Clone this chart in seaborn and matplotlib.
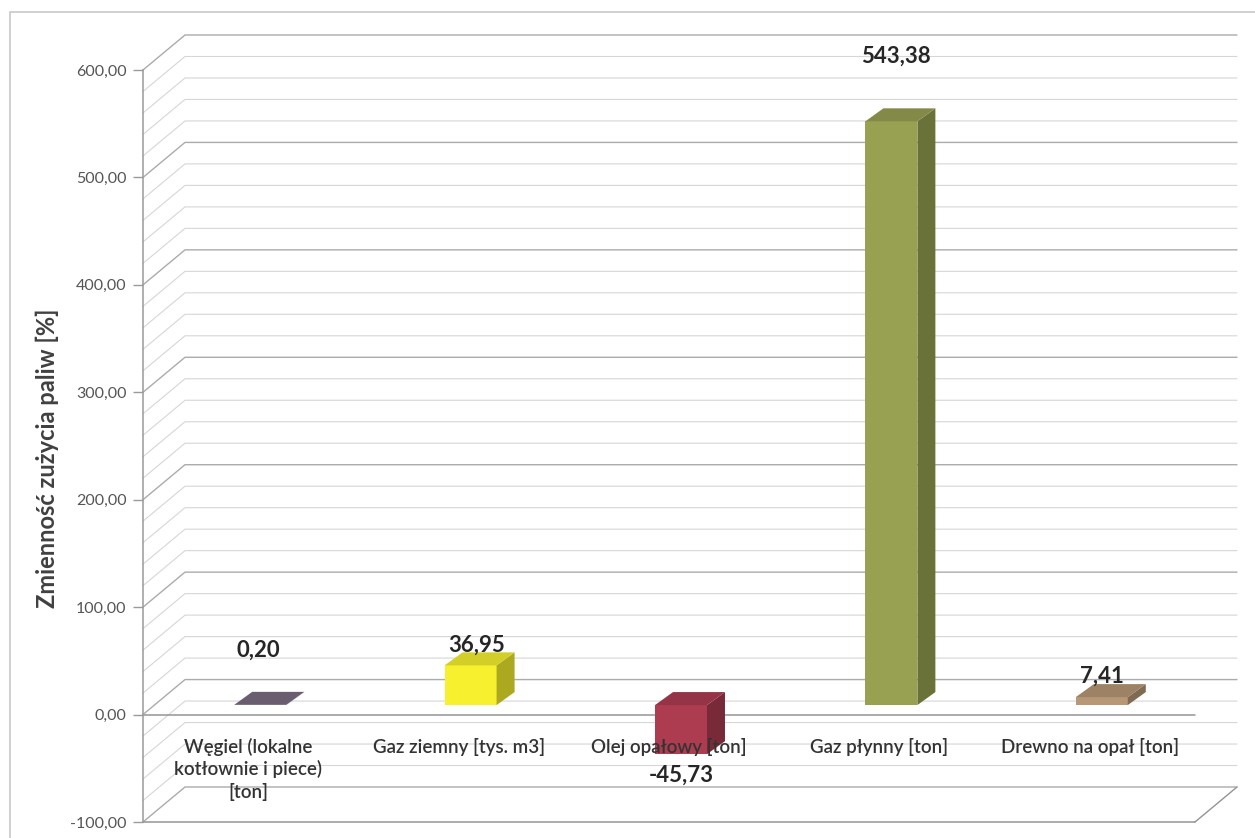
import matplotlib
matplotlib.use("Agg")
import matplotlib.pyplot as plt
from matplotlib.transforms import ScaledTranslation
from matplotlib.patches import Polygon, Rectangle
from matplotlib.lines import Line2D
from matplotlib.ticker import FuncFormatter, FixedLocator
import numpy as np
import pandas as pd
import seaborn as sns

# ---- data -------------------------------------------------------------
categories = [
    "Węgiel (lokalne\nkotłownie i piece)\n[ton]",
    "Gaz ziemny [tys. m3]",
    "Olej opałowy [ton]",
    "Gaz płynny [ton]",
    "Drewno na opał [ton]",
]
values = [0.20, 36.95, -45.73, 543.38, 7.41]
y_ticks = [-100, 0, 100, 200, 300, 400, 500, 600]
y_label = "Zmienność zużycia paliw [%]"

# ---- style ------------------------------------------------------------
front_colors = ["#7b6c82", "#f6f02e", "#ad3c51", "#98a152", "#b69776"]
top_shade, side_shade = 0.86, 0.70
label_offsets_px = [(-2, 55), (6, 20), (0, -21), (5, 65), (0, 21)]

W, H, DPI = 1255, 838, 100
WALL = (42, 35)        # depth of the chart box, px
BAR_POS = (12, 9.5)    # how far the bars sit behind the front plane, px
BAR_DEPTH = (18, 13)   # depth of each bar, px

sns.set_theme(style="white")
plt.rcParams["font.family"] = ["Lato", "DejaVu Sans"]

fig = plt.figure(figsize=(W / DPI, H / DPI), dpi=DPI)
ax = fig.add_axes([143 / W, 1 - 822 / H, (1195 - 143) / W, (822 - 70) / H])

df = pd.DataFrame({"kategoria": categories, "zmiana": values})
sns.barplot(data=df, x="kategoria", y="zmiana", hue="kategoria",
            palette=front_colors, width=0.247, saturation=1, legend=False,
            linewidth=0, ax=ax, zorder=5)
ax.set_xlim(-0.5, 4.5)
ax.set_ylim(-100, 600)
ax.set_xlabel("")
ax.set_ylabel("")


def shade(color, f):
    r, g, b = matplotlib.colors.to_rgb(color)
    return (r * f, g * f, b * f)


def px_line(pts, **kw):
    arr = np.asarray(pts, dtype=float) / DPI
    ax.add_line(Line2D(arr[:, 0], arr[:, 1], transform=fig.dpi_scale_trans,
                       clip_on=False, **kw))


def px_poly(pts, **kw):
    arr = np.asarray(pts, dtype=float) / DPI
    ax.add_patch(Polygon(arr, closed=True, transform=fig.dpi_scale_trans,
                         clip_on=False, **kw))


# ---- walls: left side wall diagonals and back wall grid -----------------
for v in range(-100, 601, 20):
    major = v % 100 == 0
    col = "#ababab" if major else "#d6d6d6"
    lw = 1.0 if major else 0.8
    fx, fy = ax.transData.transform((-0.5, v))
    rx, _ = ax.transData.transform((4.5, v))
    bx, by = fx + WALL[0], fy + WALL[1]
    px_line([(fx, fy), (bx, by), (rx + WALL[0], by)], color=col, lw=lw, zorder=1)

# floor front edges at 0 and at the bottom
for v in (0, -100):
    fx, fy = ax.transData.transform((-0.5, v))
    rx, _ = ax.transData.transform((4.5, v))
    px_line([(fx, fy), (rx, fy)], color="#949494", lw=1.1, zorder=2)
rx, ry = ax.transData.transform((4.5, -100))
px_line([(rx, ry), (rx + WALL[0], ry + WALL[1])], color="#949494", lw=1.0, zorder=2)

# ---- bars as boxes ----------------------------------------------------
bar_shift = ScaledTranslation(BAR_POS[0] / DPI, BAR_POS[1] / DPI, fig.dpi_scale_trans)
bar_trans = ax.transData + bar_shift
patches = sorted(ax.patches, key=lambda p: p.get_x())
for i, p in enumerate(patches):
    p.set_transform(bar_trans)
    p.set_zorder(6)
    x0, y0, w, h = p.get_x(), p.get_y(), p.get_width(), p.get_height()
    (xl, ya), (xr, yb) = bar_trans.transform([(x0, y0), (x0 + w, y0 + h)])
    lo, hi = min(ya, yb), max(ya, yb)
    dx, dy = BAR_DEPTH
    c = front_colors[i]
    px_poly([(xr, lo), (xr + dx, lo + dy), (xr + dx, hi + dy), (xr, hi)],
            facecolor=shade(c, side_shade), edgecolor="none", zorder=6)
    px_poly([(xl, hi), (xl + dx, hi + dy), (xr + dx, hi + dy), (xr, hi)],
            facecolor=shade(c, top_shade), edgecolor="none", zorder=6)

# ---- value labels -----------------------------------------------------
for i, v in enumerate(values):
    txt = f"{v:.2f}".replace(".", ",")
    ax.annotate(txt, xy=(i, v), xycoords=bar_trans,
                xytext=label_offsets_px[i], textcoords="offset pixels",
                ha="center", va="center", fontsize=16, fontweight="bold",
                color="#262626", zorder=8, annotation_clip=False)

# ---- category labels ---------------------------------------------------
ax.set_xticks([])
for i, cat in enumerate(categories):
    ax.annotate(cat, xy=(i, 0), xycoords="data", xytext=(0, -23),
                textcoords="offset pixels", ha="center", va="top",
                multialignment="center", linespacing=1.3, fontsize=13.5,
                fontweight="semibold", color="#333333", zorder=7,
                annotation_clip=False)

# ---- value axis ---------------------------------------------------------
ax.yaxis.set_major_locator(FixedLocator(y_ticks))
ax.yaxis.set_major_formatter(FuncFormatter(lambda v, _: f"{v:.2f}".replace(".", ",")))
ax.tick_params(axis="y", direction="out", length=7, width=1, color="#9a9a9a",
               labelsize=11.5, labelcolor="#555555", pad=5, left=True)
for s in ("top", "right", "bottom"):
    ax.spines[s].set_visible(False)
ax.spines["left"].set_color("#9a9a9a")
ax.spines["left"].set_linewidth(1.1)
ax.patch.set_alpha(0)

fig.text(47 / W, 1 - 458 / H, y_label, rotation=90, ha="center", va="center",
         fontsize=17, fontweight="bold", color="#404040")

# chart frame
fig.add_artist(Rectangle((10 / W, -0.05), 1.2, 1 - 12 / H + 0.05,
                         transform=fig.transFigure, fill=False,
                         edgecolor="#c8c8c8", lw=1.2))

fig.savefig("out.png", dpi=DPI)
